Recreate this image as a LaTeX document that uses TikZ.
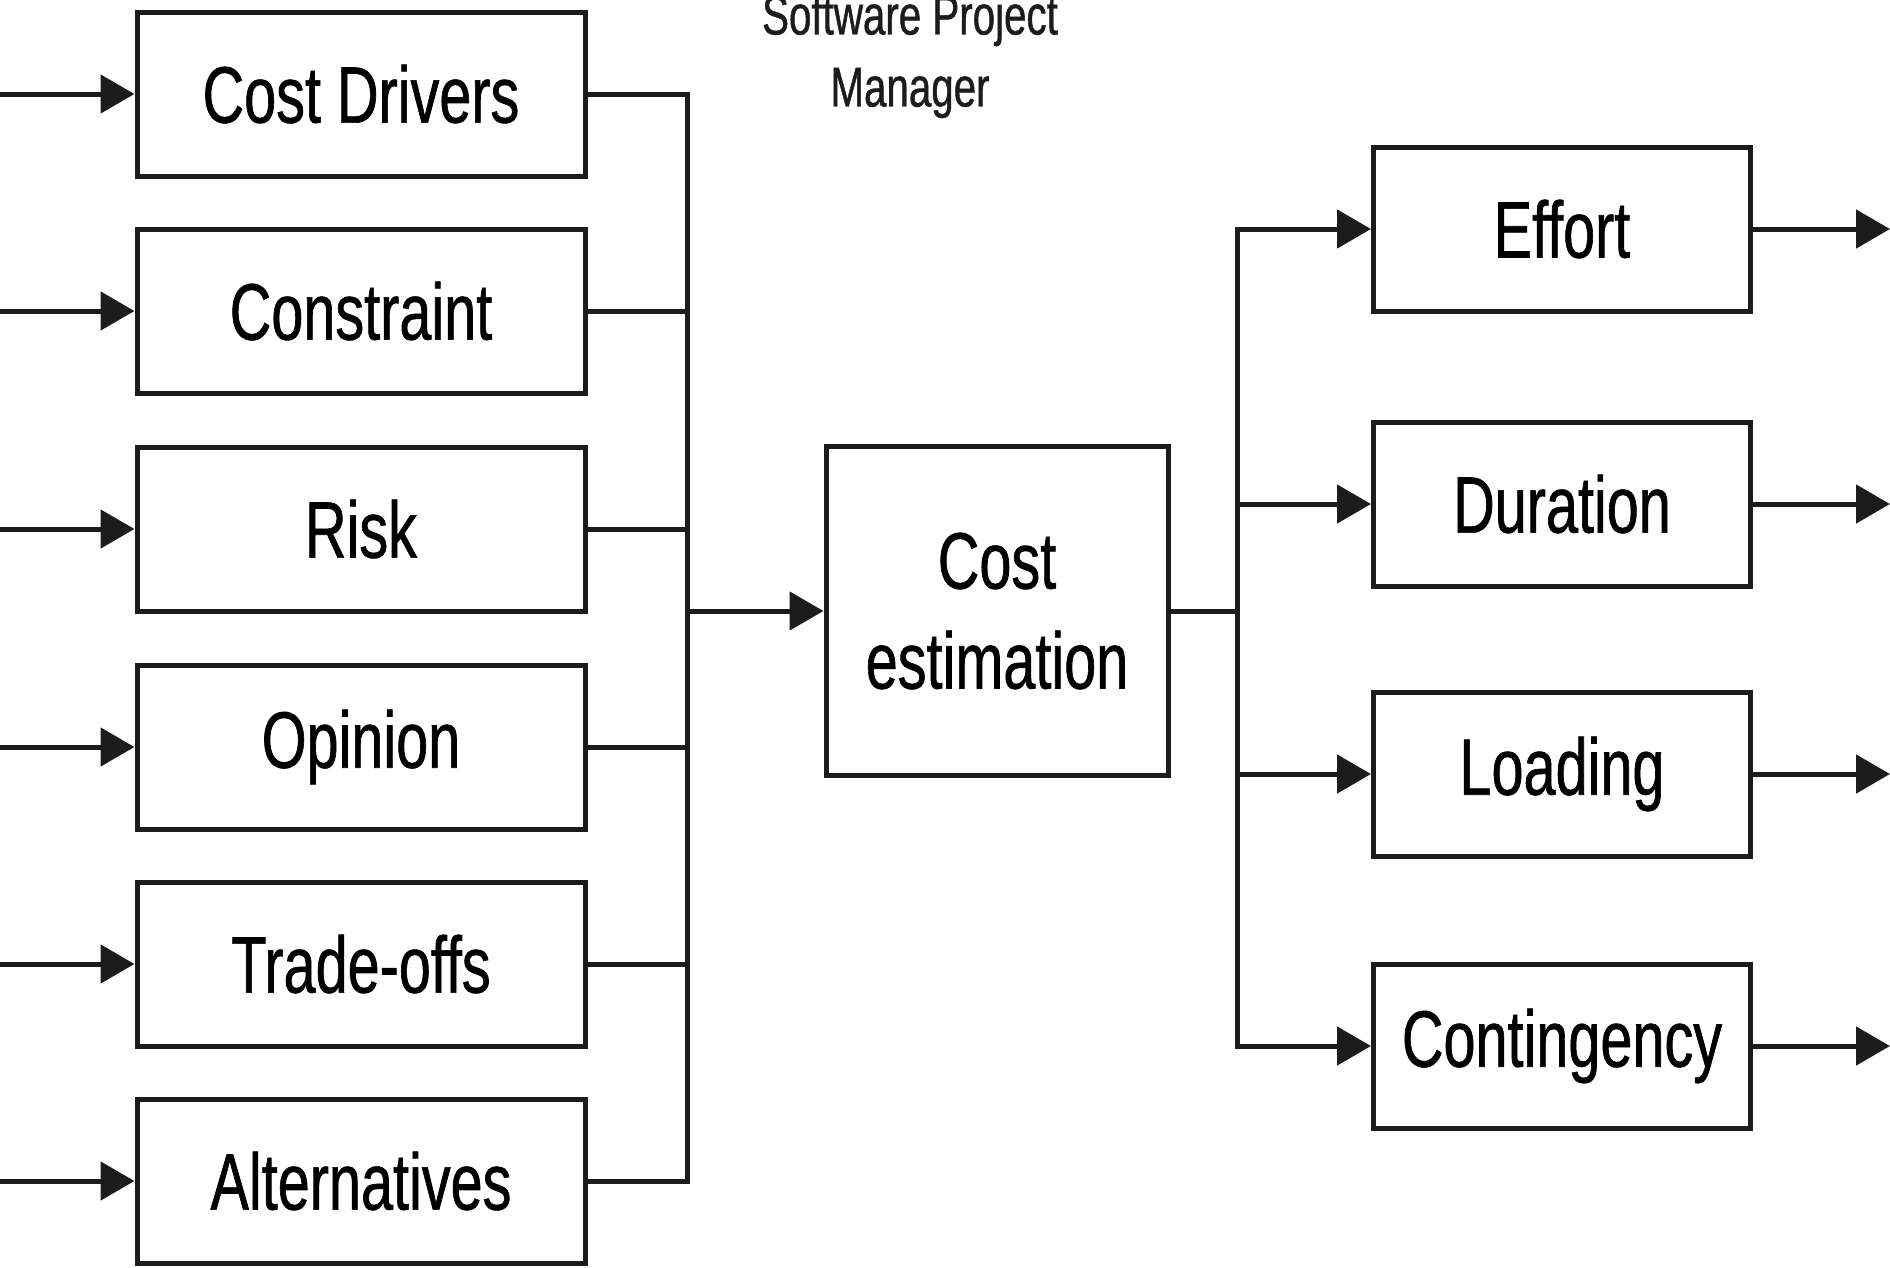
\documentclass[tikz,border=0pt]{standalone}
\usepackage{fontspec}
\setmainfont{Liberation Sans}[FakeStretch=0.72,FakeBold=0.8]
\usetikzlibrary{arrows.meta}
\definecolor{ink}{HTML}{1C1C1C}
\begin{document}
\begin{tikzpicture}[x=1pt,y=-1pt,
  lbox/.style={draw=ink, line width=5pt, fill=white, inner sep=0pt,
    minimum width=448pt, minimum height=164pt, font=\fontsize{80}{100}\selectfont},
  rbox/.style={lbox, minimum width=377pt},
  conn/.style={draw=ink, line width=5pt},
  arr/.style={conn, -{Triangle[length=34pt,width=38pt]}}]
\useasboundingbox (0,0) rectangle (1890,1267);
\clip (0,0) rectangle (1890,1267);
% title
\node (title) [align=center, inner sep=0pt, text=ink, font=\fontsize{56}{72}\selectfont] at (910,56) {Software Project\\Manager};
% left boxes
\node (l1) [lbox] at (361,94)   {Cost Drivers};
\node (l2) [lbox] at (361,311)  {Constraint};
\node (l3) [lbox] at (361,529)  {Risk};
\node (l4) [lbox] at (361,747)  {Opinion};
\node (l5) [lbox] at (361,964)  {Trade-offs};
\node (l6) [lbox] at (361,1181) {Alternatives};
% centre
\node (ce) [lbox, minimum width=342pt, minimum height=329pt, align=center] at (997,611) {Cost\\estimation};
% right boxes
\node (r1) [rbox] at (1562,229)  {Effort};
\node (r2) [rbox] at (1562,504)  {Duration};
\node (r3) [rbox] at (1562,774)  {Loading};
\node (r4) [rbox] at (1562,1046) {Contingency};
% input arrows and left bus
\foreach \n/\y in {1/94,2/311,3/529,4/747,5/964,6/1181}{
  \coordinate (in\n) at (-10,\y);
  \coordinate (b\n) at (687,\y);
  \draw[arr] (in\n) -- (l\n.west);
  \draw[conn] (l\n.east) -- (b\n);
}
\draw[conn, line cap=rect] (b1) -- (b6);
\coordinate (bm) at (687,611);
\draw[arr] (bm) -- (ce.west);
% right bus
\coordinate (cm) at (1237,611);
\draw[conn] (ce.east) -- (cm);
\foreach \n/\y in {1/229,2/504,3/774,4/1046}{
  \coordinate (c\n) at (1237,\y);
  \coordinate (out\n) at (1890,\y);
  \draw[arr] (c\n) -- (r\n.west);
  \draw[arr] (r\n.east) -- (out\n);
}
\draw[conn, line cap=rect] (c1) -- (c4);
\end{tikzpicture}
\end{document}
